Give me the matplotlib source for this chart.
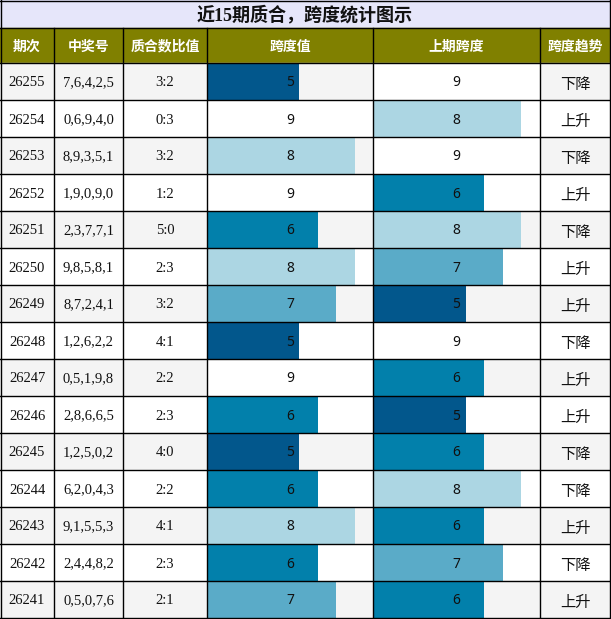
#!/usr/bin/env python

import numpy as np
import matplotlib as mpl
import matplotlib.pyplot as plt

mpl.rc('savefig', dpi=100)
mpl.rc('figure', dpi=100)

# data, newest first
periods = ['26255', '26254', '26253', '26252', '26251', '26250', '26249', '26248',
           '26247', '26246', '26245', '26244', '26243', '26242', '26241']
draws = ['7,6,4,2,5', '0,6,9,4,0', '8,9,3,5,1', '1,9,0,9,0', '2,3,7,7,1',
         '9,8,5,8,1', '8,7,2,4,1', '1,2,6,2,2', '0,5,1,9,8', '2,8,6,6,5',
         '1,2,5,0,2', '6,2,0,4,3', '9,1,5,5,3', '2,4,4,8,2', '0,5,0,7,6']
ratios = ['3:2', '0:3', '3:2', '1:2', '5:0', '2:3', '3:2', '4:1',
          '2:2', '2:3', '4:0', '2:2', '4:1', '2:3', '2:1']
spans = [5, 9, 8, 9, 6, 8, 7, 5, 9, 6, 5, 6, 8, 6, 7]
prev_spans = [9, 8, 9, 6, 8, 7, 5, 9, 6, 5, 6, 8, 6, 7, 6]
trends = ['下降', '上升', '下降', '上升', '下降', '上升', '上升', '下降',
          '上升', '上升', '下降', '下降', '上升', '下降', '上升']

title = '近15期质合，跨度统计图示'
headers = ['期次', '中奖号', '质合数比值', '跨度值', '上期跨度', '跨度趋势']

span_colors = {5: '#02578c', 6: '#0280ab', 7: '#5aabc8', 8: '#acd6e3', 9: '#ffffff'}
span_max = 9


def main() -> None:

    W, H = 611, 619
    fig = plt.figure(figsize=(W/100, H/100))
    ax = fig.add_axes([0, 0, 1, 1])
    ax.set_xlim(0, W)
    ax.set_ylim(H, 0)
    ax.axis('off')

    cols = [0, 54, 123, 207, 373, 540, 610]
    title_h = 28
    head_top, head_bot = 28, 63
    n = len(periods)
    row_h = (H - 1 - head_bot) / n
    row_top = head_bot + np.arange(n) * row_h
    row_mid = row_top + row_h / 2

    cjk = ['Noto Sans CJK SC', 'DejaVu Sans']
    serif = ['Liberation Serif', 'Noto Sans CJK SC']

    # title and header backgrounds
    ax.add_patch(plt.Rectangle((0, 0), cols[-1], title_h, color='#e6e6fa', zorder=0))
    ax.add_patch(plt.Rectangle((0, head_top), cols[-1], head_bot - head_top,
                               color='#808000', zorder=0))
    ax.text(cols[-1] / 2, title_h / 2 + 6, title, ha='center', va='baseline',
            fontsize=13, fontweight='bold', family=serif, color='#111111')
    for i, h in enumerate(headers):
        ax.text((cols[i] + cols[i+1]) / 2, (head_top + head_bot) / 2 + 5, h,
                ha='center', va='baseline', fontsize=10, fontweight='bold',
                family=cjk, color='white')

    # row shading
    for i in range(n):
        shade = '#f4f4f4' if i % 2 == 0 else '#ffffff'
        ax.add_patch(plt.Rectangle((0, row_top[i]), cols[-1], row_h,
                                   color=shade, zorder=0))

    # span bars
    for c, vals in ((3, spans), (4, prev_spans)):
        width = cols[c+1] - cols[c]
        ax.barh(row_mid, [v / span_max * width for v in vals], left=cols[c],
                height=row_h, color=[span_colors[v] for v in vals],
                edgecolor='none', zorder=1)
        for i, v in enumerate(vals):
            ax.text((cols[c] + cols[c+1]) / 2, row_mid[i] + 5, str(v),
                    ha='center', va='baseline', fontsize=10,
                    family='Noto Sans', color='#111111', zorder=3)

    # text columns
    for i in range(n):
        for c, s in ((0, periods[i]), (1, draws[i]), (2, ratios[i])):
            ax.text((cols[c] + cols[c+1]) / 2, row_mid[i] + 5, s, ha='center',
                    va='baseline', fontsize=10.5, family='Liberation Serif',
                    color='#111111', zorder=3)
        ax.text((cols[5] + cols[6]) / 2, row_mid[i] + 7.5, trends[i], ha='center',
                va='baseline', fontsize=11, family=cjk, color='#111111',
                zorder=3)

    # grid lines
    lw = 1.0
    for y in [0.5, title_h, head_bot] + list(row_top[1:]) + [H - 1]:
        ax.plot([0, cols[-1]], [y, y], color='k', lw=lw, zorder=4)
    ax.plot([0.5, 0.5], [0, H - 1], color='k', lw=lw, zorder=4)
    ax.plot([cols[-1], cols[-1]], [0, H - 1], color='k', lw=lw, zorder=4)
    for x in cols[1:-1]:
        ax.plot([x, x], [head_top, H - 1], color='k', lw=lw, zorder=4)

    fig.savefig('out.png', dpi=100)
    return


if __name__ == '__main__':
    main()
